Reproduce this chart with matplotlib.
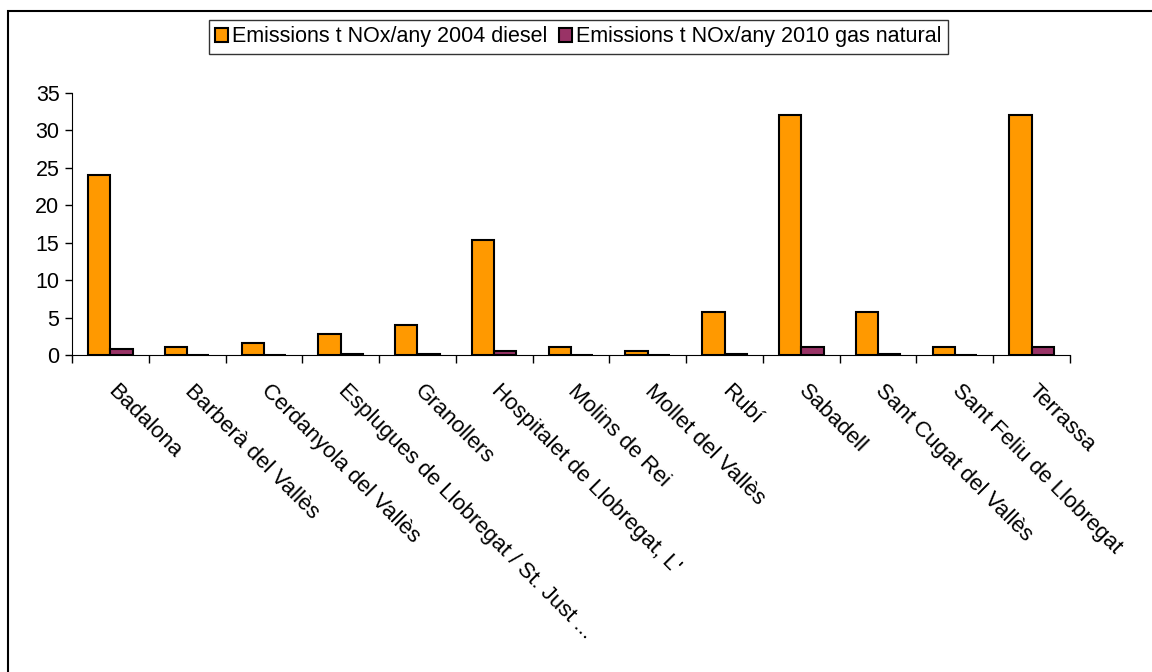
import numpy as np
import matplotlib.pyplot as plt
from matplotlib.patches import Rectangle

plt.rcParams['font.family'] = ['Liberation Sans', 'DejaVu Sans']

municipis = ['Badalona', 'Barberà del Vallès', 'Cerdanyola del Vallès',
             'Esplugues de Llobregat / St. Just ...', 'Granollers',
             "Hospitalet de Llobregat, L'", 'Molins de Rei', 'Mollet del Vallès',
             'Rubí', 'Sabadell', 'Sant Cugat del Vallès',
             'Sant Feliu de Llobregat', 'Terrassa']
diesel_2004 = [24.0, 1.1, 1.6, 2.8, 4.0, 15.4, 1.1, 0.5, 5.7, 32.0, 5.7, 1.1, 32.0]
gas_2010 = [0.8, 0.05, 0.05, 0.08, 0.1, 0.5, 0.05, 0.0, 0.15, 1.1, 0.15, 0.05, 1.1]

fig = plt.figure(figsize=(11.52, 6.72), dpi=100)
ax = fig.add_axes([0.0625, 0.4717, 0.8663, 0.3899])

# outer chart border (Excel style)
fig.patches.append(Rectangle((8 / 1152, -0.1), 1.2, 1 - 11 / 672 + 0.1,
                             transform=fig.transFigure, fill=False,
                             edgecolor='black', linewidth=1.5))

x = np.arange(len(municipis))
w = 0.29
ax.bar(x - w / 2, diesel_2004, w, color='#FF9900', edgecolor='black',
       linewidth=1.5, label='Emissions t NOx/any 2004 diesel')
ax.bar(x + w / 2, gas_2010, w, color='#993366', edgecolor='black',
       linewidth=1.5, label='Emissions t NOx/any 2010 gas natural')

ax.set_xlim(-0.5, len(municipis) - 0.5)
ax.set_ylim(0, 35)
ax.set_yticks(np.arange(0, 36, 5))
ax.tick_params(axis='y', labelsize=15.5, length=5, width=1, pad=4)

# ticks between categories, labels placed by hand
ax.set_xticks(np.arange(-0.5, len(municipis), 1))
ax.set_xticklabels([])
ax.tick_params(axis='x', length=6, width=1)
for xi, name in zip(x, municipis):
    ax.text(xi + 0.1, -3.4, name, rotation=-45, rotation_mode='anchor',
            ha='left', va='top', fontsize=16)

for s in ['top', 'right']:
    ax.spines[s].set_visible(False)

leg = fig.legend(loc='center', bbox_to_anchor=(0.502, 0.945), ncol=2,
                 fontsize=15.5, frameon=True, fancybox=False,
                 handlelength=0.6, handleheight=0.6, handletextpad=0.2,
                 columnspacing=0.5, borderpad=0.3, borderaxespad=0)
leg.get_frame().set_edgecolor('black')
leg.get_frame().set_linewidth(1)

fig.savefig('out.png', dpi=100)
